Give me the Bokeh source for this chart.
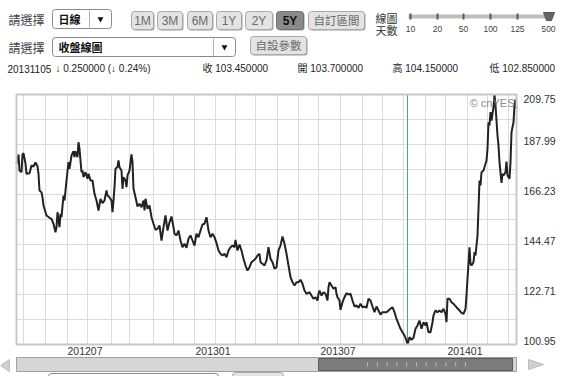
from bokeh.plotting import figure
from bokeh.models import Range1d, FixedTicker, Grid
from bokeh.embed import file_html
from bokeh.resources import INLINE
from bokeh.core.properties import value

# ---------------- data ----------------
day_index = [0, 2, 3, 5, 6, 7, 9, 10, 13, 15, 17, 19, 21, 22, 23, 25, 26, 27, 30, 33, 35, 37, 39, 40, 41, 43, 44, 45, 47, 48,
             50, 52, 53, 55, 57, 58, 59, 61, 62, 63, 65, 66, 67, 69, 71, 72, 74, 76, 78, 80, 82, 84, 86, 88, 90, 91, 93, 95, 96, 97,
             98, 99, 101, 102, 103, 105, 106, 107, 109, 110, 111, 113, 115, 116, 117, 119, 121, 123, 125, 127, 128, 129, 131, 133, 135, 137, 139, 141, 143, 145,
             147, 149, 151, 153, 155, 157, 158, 160, 162, 164, 166, 168, 170, 172, 174, 176, 178, 180, 182, 184, 186, 188, 190, 192, 194, 196, 198, 200, 202, 204,
             206, 208, 210, 212, 214, 216, 218, 219, 221, 223, 225, 227, 229, 231, 233, 235, 237, 239, 241, 243, 244, 246, 248, 250, 252, 254, 256, 258, 260, 262,
             264, 266, 268, 270, 272, 274, 276, 278, 280, 282, 284, 286, 288, 290, 293, 295, 297, 299, 301, 302, 303, 305, 307, 309, 311, 312, 313, 315, 317, 319,
             320, 321, 323, 324, 326, 328, 330, 332, 334, 336, 338, 340, 342, 344, 346, 348, 350, 352, 354, 356, 358, 360, 362, 364, 366, 368, 370, 372, 374, 376,
             378, 380, 382, 384, 386, 388, 390, 391, 393, 395, 397, 399, 401, 403, 405, 407, 409, 410, 412, 414, 416, 417, 419, 421, 423, 425, 427, 429, 430, 431,
             433, 435, 437, 440, 443, 445, 447, 449, 450, 451, 452, 453, 454, 455, 457, 458, 459, 461, 462, 463, 464, 465, 467, 469, 470, 471, 472, 473, 474, 475,
             477, 478, 479, 481, 482, 483, 485, 486, 487, 489, 490, 491, 493, 494, 495, 497, 498, 499, 500]
close = [179.59, 183.64, 176.67, 175.93, 183.64, 184.20, 179.72, 175.24, 175.50, 178.85, 178.42, 180.16, 178.42, 175.24, 167.97, 167.23, 165.05, 161.44, 157.09, 156.09,
         155.65, 153.48, 149.82, 152.00, 158.53, 152.00, 157.83, 156.35, 165.79, 163.62, 172.32, 180.29, 177.41, 183.20, 185.07, 182.46, 185.07, 182.46, 188.99, 186.12,
         175.93, 176.67, 173.76, 175.93, 173.06, 175.24, 172.32, 172.32, 166.53, 163.62, 159.27, 164.36, 162.44, 163.62, 167.97, 165.79, 165.05, 163.62, 158.53, 163.62,
         169.41, 177.55, 178.11, 181.03, 178.11, 176.67, 168.71, 173.76, 172.32, 169.41, 174.50, 176.67, 183.64, 180.29, 168.71, 165.05, 161.01, 162.18, 160.70, 163.62,
         159.27, 164.36, 160.01, 161.44, 156.35, 153.48, 150.87, 151.30, 152.74, 146.21, 152.00, 157.09, 150.56, 154.17, 156.66, 152.00, 149.13, 148.39, 150.56, 146.21,
         143.29, 144.77, 143.03, 146.95, 148.39, 146.21, 144.03, 149.13, 147.65, 150.56, 153.17, 153.48, 156.35, 150.56, 147.65, 149.13, 147.65, 145.10, 141.86, 140.42,
         139.68, 140.42, 138.94, 141.86, 143.29, 144.03, 143.29, 146.51, 141.86, 144.47, 141.86, 138.25, 135.33, 133.15, 134.59, 136.77, 137.51, 138.25, 139.68, 140.42,
         136.77, 136.07, 135.33, 137.51, 143.29, 138.25, 136.77, 133.90, 134.59, 141.86, 144.03, 147.95, 144.77, 140.42, 135.33, 130.24, 128.06, 126.63, 128.06, 128.06,
         129.10, 127.37, 124.45, 123.01, 123.71, 122.27, 120.84, 121.54, 120.10, 123.01, 124.45, 122.27, 123.71, 123.01, 120.10, 125.89, 128.06, 126.63, 125.19, 125.89,
         123.01, 121.54, 120.10, 116.05, 119.36, 121.54, 123.28, 122.71, 123.01, 120.10, 117.49, 117.92, 116.92, 118.66, 117.18, 117.49, 116.92, 120.84, 120.10, 117.49,
         115.01, 117.49, 115.75, 114.01, 115.01, 115.01, 115.01, 115.75, 116.49, 117.18, 115.01, 112.13, 109.96, 107.78, 106.30, 104.87, 102.69, 100.95, 104.12, 103.00,
         103.87, 107.78, 109.22, 111.39, 107.78, 110.65, 109.22, 110.65, 106.30, 106.30, 110.65, 113.57, 115.75, 115.01, 115.75, 115.01, 116.49, 114.31, 110.65, 120.84,
         120.84, 119.36, 118.66, 117.18, 115.75, 114.75, 114.31, 116.49, 122.27, 129.54, 136.07, 143.29, 136.07, 135.33, 136.77, 141.12, 139.68, 148.39, 160.01, 172.32,
         170.15, 175.93, 176.67, 179.59, 181.03, 186.12, 197.69, 196.26, 202.05, 198.43, 204.22, 209.75, 204.96, 191.91, 187.55, 180.29, 171.32, 175.24, 174.50, 175.93,
         180.59, 174.50, 173.06, 180.29, 193.34, 197.69, 204.96, 207.57, 203.53]

month_start_index = [7, 29, 51, 71, 95, 113, 137, 157, 178, 199, 219, 239, 261, 282, 302, 324, 346, 366, 387, 409, 429, 451, 471, 492]
month_labels = ["201204", "201205", "201206", "201207", "201208", "201209", "201210", "201211", "201212",
                "201301", "201302", "201303", "201304", "201305", "201306", "201307", "201308", "201309",
                "201310", "201311", "201312", "201401", "201402", "201403"]
shown_months = ["201207", "201301", "201307", "201401"]
price_ticks = [100.95, 111.83, 122.71, 133.59, 144.47, 155.35, 166.23, 177.11, 187.99, 198.87, 209.75]
price_labelled = [100.95, 122.71, 144.47, 166.23, 187.99, 209.75]

period_buttons = ["1M", "3M", "6M", "1Y", "2Y", "5Y"]
selected_period = "5Y"
slider_days = ["10", "20", "50", "100", "125", "500"]
info_date = "20131105"
info_change = "\u2193 0.250000 (\u2193 0.24%)"
info_fields = ["收 103.450000", "開 103.700000", "高 104.150000", "低 102.850000"]

# ---------------- page geometry (page pixels) ----------------
W, H = 564, 376
PAGE_L, PAGE_T = 0, 0
BOX_L, BOX_R, BOX_T, BOX_B = 16, 516, 94, 344     # chart box on the page

CJK = "Noto Sans CJK TC"
MIX = "Liberation Sans, Noto Sans CJK TC"
LAT = "Liberation Sans"

x0, x1 = day_index[0], day_index[-1]
lo, hi = min(close), max(close)
ppx = (BOX_R - BOX_L) / (x1 - x0)       # pixels per trading day
ppy = (BOX_B - BOX_T) / (hi - lo)       # pixels per price unit

p = figure(width=W, height=H, min_border=0, toolbar_location=None, output_backend="svg",
           x_axis_location=None, y_axis_location=None,
           x_range=Range1d(x0 - (BOX_L - PAGE_L) / ppx, x1 + (PAGE_L + W - BOX_R) / ppx),
           y_range=Range1d(lo - (PAGE_T + H - BOX_B) / ppy, hi + (BOX_T - PAGE_T) / ppy))
p.title.visible = False
p.outline_line_color = None
p.background_fill_color = "white"
p.border_fill_color = "white"
for g in p.grid:
    g.visible = False
p.extra_x_ranges = {"px": Range1d(PAGE_L, PAGE_L + W)}
p.extra_y_ranges = {"px": Range1d(PAGE_T + H, PAGE_T)}
PX = dict(x_range_name="px", y_range_name="px")


def put_text(x, y, s, size, color="#333333", font=MIX, align="left", bold=False, baseline="middle"):
    p.text(x=[x], y=[y], text=[s], text_font=value(font), text_font_size=size,
           text_color=color, text_align=align, text_baseline=baseline,
           text_font_style="bold" if bold else "normal", **PX)


def button(l, r, t, b, label, selected=False, size="12px"):
    p.quad(left=[l + 1], right=[r + 1], top=[t + 1], bottom=[b + 1], fill_color="#9a9a9a", line_color=None, border_radius=3, **PX)
    p.quad(left=[l], right=[r], top=[t], bottom=[b],
           fill_color="#8a8a8a" if selected else "#e3e3e3",
           line_color="#707070" if selected else "#a9a9a9", line_width=1, border_radius=3, **PX)
    put_text((l + r) / 2, (t + b) / 2 + 0.5, label, size,
             color="#111111" if selected else "#6a6a6a", align="center", bold=selected)


# ---------------- controls ----------------
put_text(8, 19, "請選擇", "12px", color="#444444", font=CJK)
put_text(8, 47, "請選擇", "12px", color="#444444", font=CJK)

for (l, r, t, b, div, label) in [(52, 111, 9, 28, 89, "日線"), (52, 235, 37, 56, 213, "收盤線圖")]:
    p.quad(left=[l], right=[r], top=[t], bottom=[b], fill_color="white", line_color="#8a8a8a", border_radius=3, **PX)
    p.segment(x0=[div], y0=[t + 1], x1=[div], y1=[b - 1], line_color="#b0b0b0", **PX)
    p.scatter(x=[(div + r) / 2], y=[(t + b) / 2], marker="inverted_triangle", size=6, fill_color="#111111", line_color=None, **PX)
    put_text(l + 6, (t + b) / 2, label, "11px", color="#111111", font=CJK, bold=True)

btn_edges = [(131, 153), (157, 182), (187, 212), (216, 241), (245, 272), (276, 303)]
for (l, r), lab in zip(btn_edges, period_buttons):
    button(l, r, 11, 29, lab, selected=(lab == selected_period))
button(308, 364, 11, 29, "自訂區間", size="11.5px")
button(250, 306, 36, 54, "自設參數", size="11.5px")

put_text(375, 17, "線圖", "11px", color="#333333", font=CJK)
put_text(375, 29, "天數", "11px", color="#333333", font=CJK)
slider_x = [410, 437, 463, 490, 517, 548]
p.segment(x0=[408], y0=[16], x1=[550], y1=[16], line_color="#bdbdbd", line_width=4, **PX)
p.segment(x0=slider_x[:-1], y0=[13] * 5, x1=slider_x[:-1], y1=[19] * 5, line_color="#5a5a5a", line_width=2, **PX)
p.patch(x=[543, 554, 551, 546], y=[12, 12, 20, 20], fill_color="#666666", line_color="#555555", **PX)
for sx, lab in zip(slider_x, slider_days):
    put_text(sx, 28, lab, "8.5px", color="#444444", font=LAT, align="center")

put_text(7, 68, info_date, "10px", color="#222222")
put_text(55, 68, info_change, "10px", color="#222222")
for fx, s in zip([202, 297, 392, 489], info_fields):
    put_text(fx, 68, s, "10px", color="#222222")

# ---------------- chart ----------------
p.add_layout(Grid(dimension=0, ticker=FixedTicker(ticks=month_start_index), cross_bounds=(lo, hi),
                  grid_line_color="#dcdcdc", grid_line_width=1))
p.add_layout(Grid(dimension=1, ticker=FixedTicker(ticks=price_ticks), cross_bounds=(x0, x1),
                  grid_line_color="#dcdcdc", grid_line_width=1))

low_i = close.index(lo)
p.segment(x0=[day_index[low_i]], y0=[lo], x1=[day_index[low_i]], y1=[hi], line_color="#3b9bdc", line_width=1)
p.line(day_index, close, line_color="#222222", line_width=2)

p.quad(left=[x0], right=[x1], bottom=[lo], top=[hi], fill_color=None, line_color="#c8c8c8", line_width=2)

p.text(x=[x1] * (len(price_labelled) - 1), y=price_labelled[:-1], text=[f"{v:.2f}" for v in price_labelled[:-1]],
       x_offset=7, text_baseline="bottom", text_align="left", text_font=value(LAT), text_font_size="10.5px",
       text_color="#333333")
p.text(x=[x1], y=[price_labelled[-1]], text=[f"{price_labelled[-1]:.2f}"],
       x_offset=7, text_baseline="top", text_align="left", text_font=value(LAT), text_font_size="10.5px",
       text_color="#333333")

lab_idx = [i for i, m in zip(month_start_index, month_labels) if m in shown_months]
lab_txt = [m for m in month_labels if m in shown_months]
p.text(x=lab_idx, y=[lo] * len(lab_idx), text=lab_txt, x_offset=-2.5, y_offset=2,
       text_baseline="top", text_align="center", text_font=value(LAT), text_font_size="10.5px",
       text_color="#333333")

p.text(x=[x1], y=[hi], text=["© cnYES"], x_offset=-2, y_offset=2, text_align="right", text_baseline="top",
       text_font=value(LAT), text_font_size="11px", text_color="#8a8a8a")

# ---------------- scrollbar strip and cut-off controls below ----------------
p.patch(x=[0, 9, 9], y=[365, 359, 371], fill_color="#d0d0d0", line_color="#bdbdbd", **PX)
p.quad(left=[16], right=[516], top=[357], bottom=[371], fill_color="#d6d6d6", line_color="#a0a0a0", **PX)
p.quad(left=[318], right=[512], top=[358], bottom=[370], fill_color="#7c7c7c", line_color="#5a5a5a", **PX)
grip = [367 + k * 9.8 for k in range(11)]
p.segment(x0=grip, y0=[362] * 11, x1=grip, y1=[366] * 11, line_color="#bdbdbd", line_width=1, **PX)
p.patch(x=[528, 543, 528], y=[359, 364, 369], fill_color="#cfcfcf", line_color="#bdbdbd", **PX)
p.quad(left=[48], right=[218], top=[373], bottom=[386], fill_color="white", line_color="#8a8a8a", border_radius=3, **PX)
p.quad(left=[232], right=[283], top=[372], bottom=[386], fill_color="#e3e3e3", line_color="#a9a9a9", border_radius=3, **PX)

open("out.html", "w").write(file_html(p, INLINE))
